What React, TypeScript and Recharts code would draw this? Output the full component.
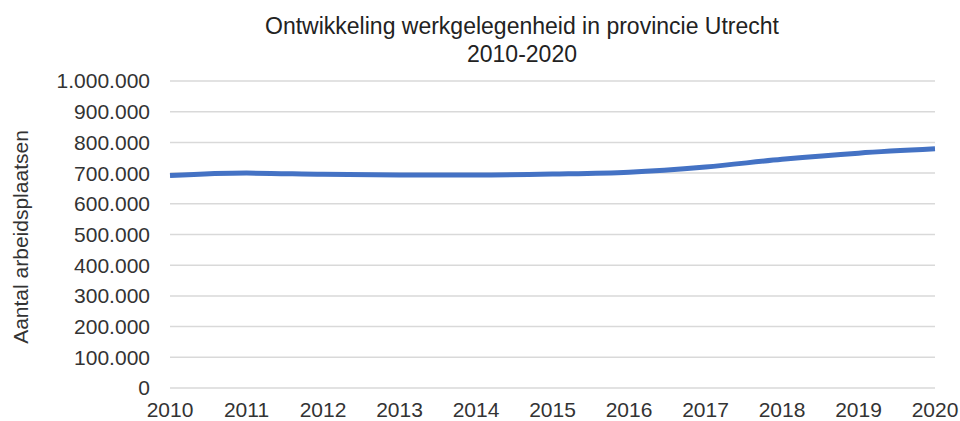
import { LineChart, Line, XAxis, YAxis, CartesianGrid } from 'recharts';

const years = ['2010', '2011', '2012', '2013', '2014', '2015', '2016', '2017', '2018', '2019', '2020'];
const arbeidsplaatsen = [692000, 700000, 696000, 694000, 694000, 697000, 703000, 720000, 745000, 765000, 779000];
const yTicks = [0, 100000, 200000, 300000, 400000, 500000, 600000, 700000, 800000, 900000, 1000000];

const data = years.map((year, i) => ({ year, value: arbeidsplaatsen[i] }));

const FONT = '"Liberation Sans", Arial, sans-serif';

const formatNl = (v: number) => String(v).replace(/\B(?=(\d{3})+(?!\d))/g, '.');

export default function App() {
  return (
    <div style={{ position: 'absolute', left: 0, top: 0, width: 960, height: 421, background: '#fff', fontFamily: FONT }}>
      <div
        style={{
          position: 'absolute',
          left: 222,
          top: 12,
          width: 600,
          textAlign: 'center',
          fontSize: 23,
          lineHeight: '28px',
          color: '#222',
        }}
      >
        <div>Ontwikkeling werkgelegenheid in provincie Utrecht</div>
        <div>2010-2020</div>
      </div>
      <LineChart width={960} height={421} data={data} margin={{ top: 81, right: 25, bottom: 0, left: 0 }}>
        <CartesianGrid vertical={false} stroke="#d9d9d9" strokeWidth={1.5} />
        <XAxis
          dataKey="year"
          axisLine={false}
          tickLine={false}
          tickSize={0}
          tickMargin={14}
          height={33}
          interval={0}
          tick={{ fill: '#333', fontSize: 21, fontFamily: FONT }}
        />
        <YAxis
          domain={[0, 1000000]}
          ticks={yTicks}
          tickFormatter={formatNl}
          axisLine={false}
          tickLine={false}
          tickSize={0}
          tickMargin={20}
          width={170}
          tick={{ fill: '#333', fontSize: 21, fontFamily: FONT }}
          label={{
            content: () => (
              <text
                x={28}
                y={237}
                transform="rotate(-90 28 237)"
                textAnchor="middle"
                fill="#333"
                fontSize={21}
                fontFamily={FONT}
              >
                Aantal arbeidsplaatsen
              </text>
            ),
          }}
        />
        <Line
          type="monotone"
          dataKey="value"
          stroke="#4472C4"
          strokeWidth={5}
          dot={false}
          activeDot={false}
          isAnimationActive={false}
        />
      </LineChart>
    </div>
  );
}
